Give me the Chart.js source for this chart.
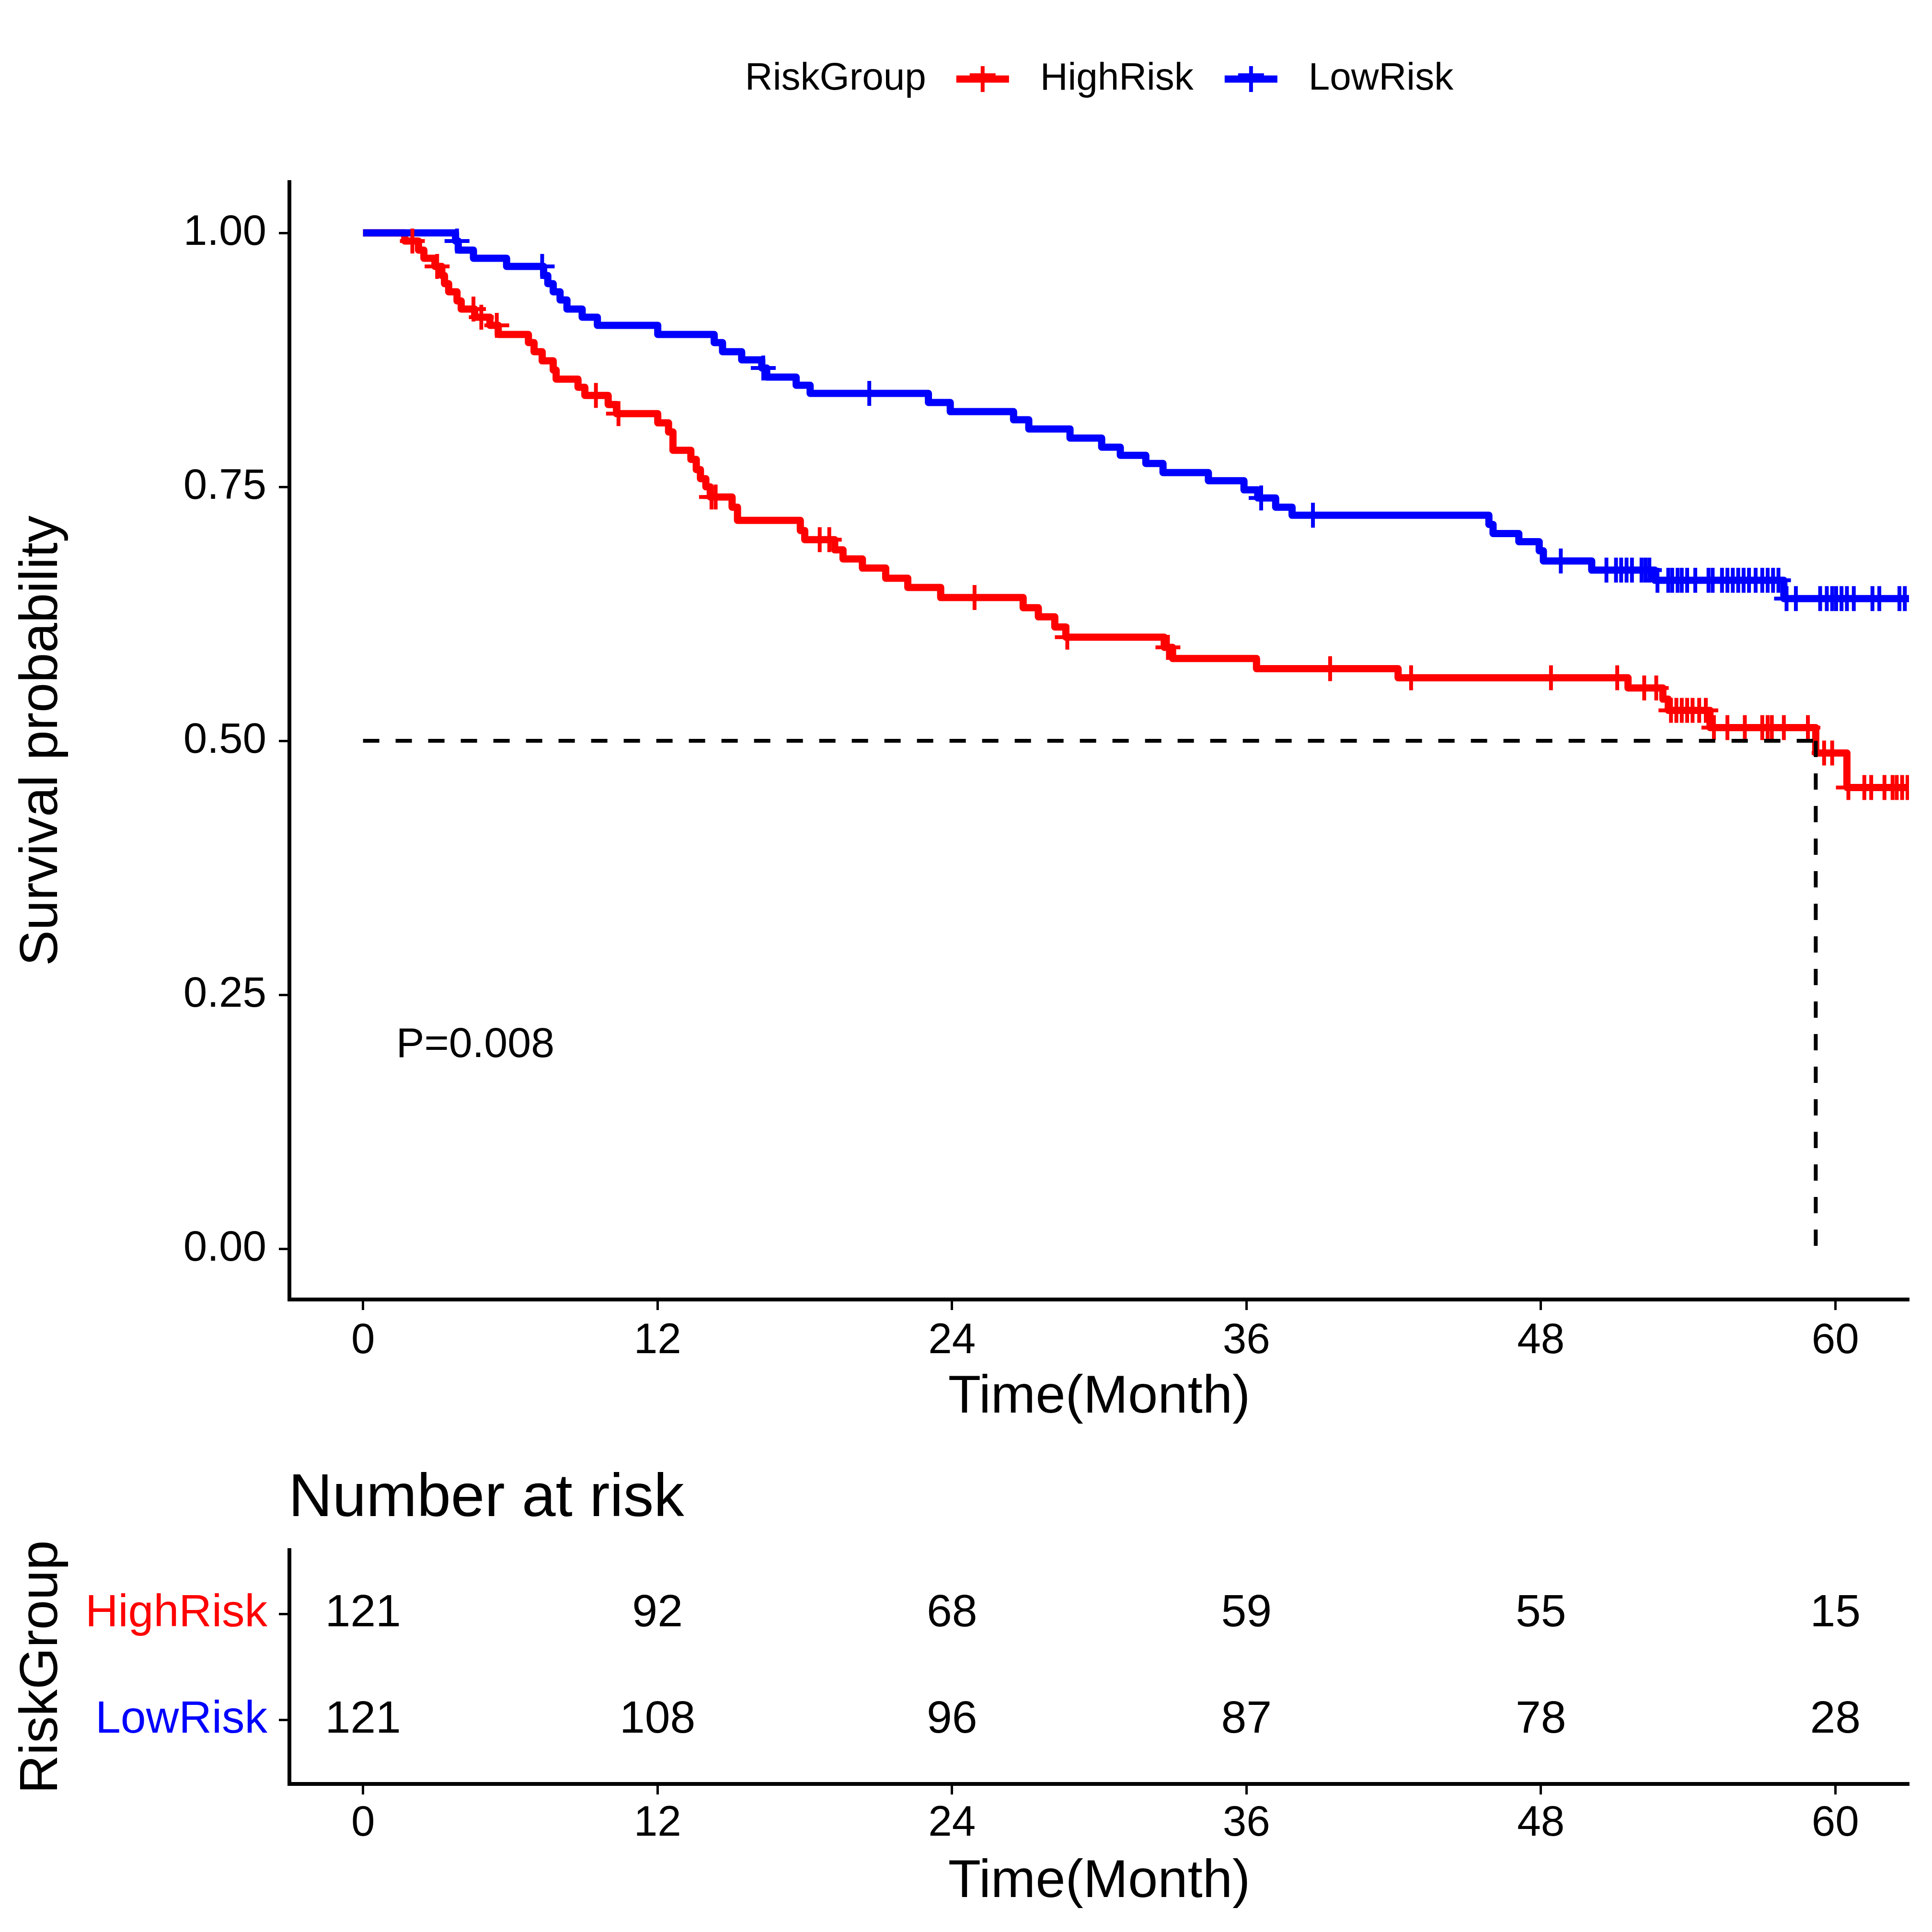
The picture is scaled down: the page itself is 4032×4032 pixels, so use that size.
<!DOCTYPE html>
<html>
<head>
<meta charset="utf-8">
<script src="https://cdn.jsdelivr.net/npm/chart.js@4.4.1/dist/chart.umd.min.js"></script>
<style>
html,body{margin:0;padding:0;background:#ffffff;}
body{width:4032px;height:4032px;position:relative;overflow:hidden;}
#main{position:absolute;left:0;top:0;width:4032px;height:3000px;}
#risk{position:absolute;left:0;top:3000px;width:4032px;height:1032px;}
</style>
</head>
<body>
<canvas id="main" width="4032" height="3000"></canvas>
<canvas id="risk" width="4032" height="1032"></canvas>
<script>
// ---------------- DATA ----------------
const groups = ['HighRisk', 'LowRisk'];
const groupColors = ['#FF0000', '#0000FF'];

// HighRisk Kaplan-Meier steps (time in months, survival after step)
const highTimes = [0, 1.70, 2.26, 2.48, 2.93, 3.21, 3.32, 3.49, 3.83, 4.00, 4.55, 5.17, 5.51, 6.74, 6.97, 7.30, 7.75, 7.87, 8.76, 9.04, 9.99, 10.33, 12.01, 12.45, 12.63, 13.36, 13.58, 13.75, 13.97, 14.15, 15.04, 15.26, 17.82, 18.00, 19.22, 19.56, 20.35, 21.30, 22.20, 23.54, 26.90, 27.52, 28.19, 28.64, 32.65, 32.99, 36.41, 42.18, 51.55, 52.97, 53.19, 54.89, 59.20, 60.47, 63.5];
const highSurv  = [1.000, 0.992, 0.983, 0.975, 0.967, 0.958, 0.950, 0.942, 0.933, 0.925, 0.917, 0.909, 0.900, 0.892, 0.883, 0.874, 0.865, 0.856, 0.848, 0.840, 0.831, 0.822, 0.813, 0.804, 0.786, 0.777, 0.767, 0.758, 0.750, 0.740, 0.730, 0.717, 0.707, 0.698, 0.688, 0.679, 0.670, 0.660, 0.651, 0.641, 0.631, 0.622, 0.612, 0.602, 0.592, 0.581, 0.571, 0.562, 0.552, 0.541, 0.530, 0.513, 0.488, 0.454, 0.454];
const highCensor = [2.01, 3.02, 4.50, 4.82, 5.45, 9.49, 10.41, 14.20, 14.37, 18.61, 19.00, 24.92, 28.70, 32.80, 39.41, 42.71, 48.41, 51.11, 52.21, 52.70, 53.30, 53.52, 53.74, 53.96, 54.18, 54.45, 54.72, 55.05, 55.60, 56.31, 57.02, 57.24, 57.41, 57.90, 58.88, 59.54, 59.87, 60.53, 61.18, 61.46, 62.00, 62.33, 62.50, 62.72, 62.94];

// LowRisk Kaplan-Meier steps
const lowTimes = [0, 3.77, 3.88, 4.50, 5.85, 7.36, 7.53, 7.75, 8.03, 8.31, 8.93, 9.55, 12.01, 14.31, 14.65, 15.43, 16.25, 16.45, 17.65, 18.22, 23.04, 23.93, 26.51, 27.13, 28.81, 30.10, 30.86, 31.90, 32.60, 34.45, 35.90, 36.46, 37.19, 37.86, 45.88, 46.05, 47.10, 47.93, 48.10, 50.07, 52.64, 57.90, 63.5];
const lowSurv  = [1.000, 0.992, 0.983, 0.975, 0.967, 0.958, 0.950, 0.942, 0.934, 0.925, 0.917, 0.909, 0.900, 0.892, 0.883, 0.875, 0.867, 0.858, 0.850, 0.842, 0.833, 0.824, 0.816, 0.807, 0.798, 0.789, 0.781, 0.773, 0.764, 0.756, 0.747, 0.739, 0.730, 0.722, 0.713, 0.704, 0.696, 0.687, 0.677, 0.668, 0.658, 0.640, 0.640];
const lowCensor = [3.83, 7.30, 16.31, 20.63, 36.60, 38.71, 48.81, 50.67, 51.06, 51.27, 51.49, 51.71, 52.10, 52.26, 52.42, 52.75, 53.19, 53.35, 53.57, 53.74, 53.96, 54.29, 54.83, 55.00, 55.38, 55.60, 55.82, 56.04, 56.26, 56.48, 56.75, 57.02, 57.24, 57.46, 57.68, 58.01, 58.39, 59.38, 59.65, 59.87, 60.03, 60.25, 60.47, 60.75, 61.51, 61.79, 62.61, 62.83];

const medianTime = 59.2;
const medianSurv = 0.5;
const pValueText = 'P=0.008';
const pValuePos = [1.35, 0.2];

const xTicks = [0, 12, 24, 36, 48, 60];
const yTicks = [0, 0.25, 0.5, 0.75, 1.0];

const riskTimes = [0, 12, 24, 36, 48, 60];
const riskHigh = [121, 92, 68, 59, 55, 15];
const riskLow  = [121, 108, 96, 87, 78, 28];
const riskCounts = [riskHigh, riskLow];

// ---------------- HELPERS ----------------
const FONT = "'Liberation Sans', Arial, Helvetica, sans-serif";
Chart.defaults.font.family = FONT;
Chart.defaults.color = '#000000';

function stepPoints(times, surv) { return times.map((t, i) => ({ x: t, y: surv[i] })); }
function survAt(times, surv, t) {
  let s = surv[0];
  for (let i = 0; i < times.length; i++) { if (times[i] <= t) s = surv[i]; else break; }
  return s;
}

const axisGrid = { display: true, drawOnChartArea: false, drawTicks: true, tickLength: 22, tickWidth: 5, tickColor: '#000000' };
const axisBorder = { display: true, color: '#000000', width: 8 };

// ---------------- PLUGINS ----------------
const legendPlugin = {
  id: 'kmLegend',
  afterDraw(chart) {
    const ctx = chart.ctx;
    const ca = chart.chartArea;
    ctx.save();
    ctx.font = '80px ' + FONT;
    ctx.textBaseline = 'middle';
    ctx.fillStyle = '#000';
    const y = 165;
    const title = 'RiskGroup';
    const symW = 110, g1 = 63, g2 = 65;
    const wt = ctx.measureText(title).width;
    const w0 = ctx.measureText(groups[0]).width;
    const w1 = ctx.measureText(groups[1]).width;
    const total = wt + g1 + symW + g2 + w0 + g2 + symW + g2 + w1;
    let x = (ca.left + ca.right) / 2 - total / 2;
    ctx.textAlign = 'left';
    ctx.fillText(title, x, y);
    x += wt + g1;
    for (let i = 0; i < groups.length; i++) {
      ctx.strokeStyle = groupColors[i];
      ctx.lineWidth = 15;
      ctx.lineCap = 'butt';
      ctx.beginPath(); ctx.moveTo(x, y); ctx.lineTo(x + symW, y); ctx.stroke();
      ctx.lineWidth = 8;
      ctx.beginPath(); ctx.moveTo(x + symW / 2, y - 27); ctx.lineTo(x + symW / 2, y + 27); ctx.stroke();
      ctx.beginPath(); ctx.moveTo(x + symW / 2 - 27, y - 8); ctx.lineTo(x + symW / 2 + 27, y - 8); ctx.stroke();
      x += symW + g2;
      ctx.fillStyle = '#000';
      ctx.fillText(groups[i], x, y);
      x += (i === 0 ? w0 : w1) + g2;
    }
    ctx.restore();
  }
};

const pvalPlugin = {
  id: 'pval',
  afterDatasetsDraw(chart) {
    const ctx = chart.ctx;
    const xs = chart.scales.x, ys = chart.scales.y;
    ctx.save();
    ctx.font = '88px ' + FONT;
    ctx.fillStyle = '#000';
    ctx.textAlign = 'left';
    ctx.textBaseline = 'middle';
    ctx.fillText(pValueText, xs.getPixelForValue(pValuePos[0]), ys.getPixelForValue(pValuePos[1]));
    ctx.restore();
  }
};

const riskTextPlugin = {
  id: 'riskText',
  afterDatasetsDraw(chart) {
    const ctx = chart.ctx;
    ctx.save();
    ctx.font = '95px ' + FONT;
    ctx.fillStyle = '#000';
    ctx.textAlign = 'center';
    ctx.textBaseline = 'middle';
    chart.data.datasets.forEach((ds, di) => {
      const meta = chart.getDatasetMeta(di);
      meta.data.forEach((el, i) => {
        ctx.fillText(String(riskCounts[di][i]), el.x, el.y);
      });
    });
    // table title
    ctx.font = '127px ' + FONT;
    ctx.textAlign = 'left';
    ctx.textBaseline = 'alphabetic';
    ctx.fillText('Number at risk', chart.chartArea.left - 2, 164);
    ctx.restore();
  }
};

// ---------------- MAIN KM CHART ----------------
new Chart(document.getElementById('main'), {
  type: 'line',
  data: {
    datasets: [
      { label: 'medianH', data: [{ x: 0, y: medianSurv }, { x: medianTime, y: medianSurv }],
        borderColor: '#000', borderWidth: 8, borderDash: [34, 34], pointRadius: 0, order: 0, clip: 0, tension: 0 },
      { label: 'medianV', data: [{ x: medianTime, y: medianSurv }, { x: medianTime, y: 0 }],
        borderColor: '#000', borderWidth: 8, borderDash: [34, 34], pointRadius: 0, order: 0, clip: 0, tension: 0 },
      { label: 'LowRisk censor', data: lowCensor.map(t => ({ x: t, y: survAt(lowTimes, lowSurv, t) })),
        showLine: false, pointStyle: 'cross', pointRadius: 26, pointBorderWidth: 8,
        pointBorderColor: groupColors[1], borderColor: groupColors[1], order: 1, clip: 0 },
      { label: 'HighRisk censor', data: highCensor.map(t => ({ x: t, y: survAt(highTimes, highSurv, t) })),
        showLine: false, pointStyle: 'cross', pointRadius: 26, pointBorderWidth: 8,
        pointBorderColor: groupColors[0], borderColor: groupColors[0], order: 2, clip: 0 },
      { label: 'LowRisk', data: stepPoints(lowTimes, lowSurv), stepped: true,
        borderColor: groupColors[1], borderWidth: 15, pointRadius: 0, order: 3, clip: 0, borderJoinStyle: 'round', borderCapStyle: 'butt' },
      { label: 'HighRisk', data: stepPoints(highTimes, highSurv), stepped: true,
        borderColor: groupColors[0], borderWidth: 15, pointRadius: 0, order: 4, clip: 0, borderJoinStyle: 'round', borderCapStyle: 'butt' }
    ]
  },
  options: {
    responsive: false,
    animation: false,
    devicePixelRatio: 1,
    layout: { padding: { top: 380, right: 48, bottom: 0, left: 0 } },
    plugins: { legend: { display: false }, tooltip: { enabled: false }, title: { display: false } },
    scales: {
      x: {
        type: 'linear', min: -3, max: 63,
        afterBuildTicks: a => { a.ticks = xTicks.map(v => ({ value: v })); },
        afterFit: s => { s.height = 288; },
        grid: axisGrid, border: axisBorder,
        ticks: { font: { size: 89 }, color: '#000', padding: 12, maxRotation: 0, autoSkip: false },
        title: { display: true, text: 'Time(Month)', color: '#000', font: { size: 112, lineHeight: 1 }, padding: { top: 0, bottom: 27 } }
      },
      y: {
        type: 'linear', min: -0.05, max: 1.05,
        afterBuildTicks: a => { a.ticks = yTicks.map(v => ({ value: v })); },
        afterFit: s => { s.width = 604; },
        grid: axisGrid, border: axisBorder,
        ticks: { font: { size: 89 }, color: '#000', padding: 26, callback: v => Number(v).toFixed(2) },
        title: { display: true, text: 'Survival probability', color: '#000', font: { size: 112, lineHeight: 1 }, padding: { top: 32, bottom: 0 } }
      }
    }
  },
  plugins: [legendPlugin, pvalPlugin]
});

// ---------------- RISK TABLE ----------------
new Chart(document.getElementById('risk'), {
  type: 'line',
  data: {
    datasets: groups.map((g, gi) => ({
      label: g,
      data: riskTimes.map(t => ({ x: t, y: gi + 1 })),
      showLine: false, pointRadius: 0, borderColor: groupColors[gi]
    }))
  },
  options: {
    responsive: false,
    animation: false,
    devicePixelRatio: 1,
    layout: { padding: { top: 235, right: 48, bottom: 0, left: 0 } },
    plugins: { legend: { display: false }, tooltip: { enabled: false }, title: { display: false } },
    scales: {
      x: {
        type: 'linear', min: -3, max: 63,
        afterBuildTicks: a => { a.ticks = xTicks.map(v => ({ value: v })); },
        afterFit: s => { s.height = 309; },
        grid: axisGrid, border: axisBorder,
        ticks: { font: { size: 89 }, color: '#000', padding: 8, maxRotation: 0, autoSkip: false },
        title: { display: true, text: 'Time(Month)', color: '#000', font: { size: 112, lineHeight: 1 }, padding: { top: 0, bottom: 48 } }
      },
      y: {
        type: 'linear', min: 0.4, max: 2.6, reverse: true,
        afterBuildTicks: a => { a.ticks = groups.map((g, i) => ({ value: i + 1 })); },
        afterFit: s => { s.width = 604; },
        grid: axisGrid, border: axisBorder,
        ticks: { font: { size: 95 }, padding: 24, color: c => groupColors[c.index], callback: v => groups[Math.round(v) - 1] },
        title: { display: true, text: 'RiskGroup', color: '#000', font: { size: 112, lineHeight: 1 }, padding: { top: 32, bottom: 0 } }
      }
    }
  },
  plugins: [riskTextPlugin]
});
</script>
</body>
</html>
